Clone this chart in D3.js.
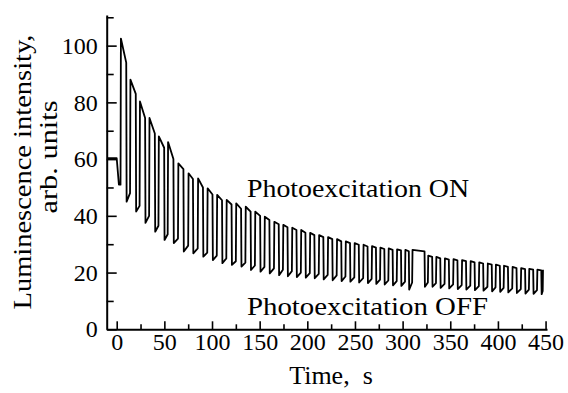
<!DOCTYPE html>
<html>
<head>
<meta charset="utf-8">
<script src="https://cdn.jsdelivr.net/npm/d3@7"></script>
<style>
  html, body { margin: 0; padding: 0; background: #fff; }
  svg { display: block; }
</style>
</head>
<body>
<svg id="chart" width="568" height="393"></svg>
<script>
const serif = "Liberation Serif, DejaVu Serif, serif";

// lead-in before the first light pulse (time s, intensity)
const leadT = [-10, 0, 2.3];
const leadV = [60.3, 60.3, 51];

// one entry per photoexcitation cycle
const riseT  = [4, 14, 24, 34, 43.8, 53.5, 64.3, 75, 85, 95, 105, 115, 125, 135, 145, 155, 165,
                174.4, 183.8, 193.2, 202.6, 212, 221.4, 230.8, 240, 249.3, 258.6, 267.5, 276.3, 285, 293.8,
                302.5, 310, 326.5, 335, 344, 353, 362, 371, 380, 389, 397.5, 406, 415, 424, 432.5, 441];
const fallT  = [10, 20, 29.8, 40, 49.8, 59.5, 70, 80, 90.5, 100.5, 110.5, 120.5, 130.5, 140.5, 150.5, 160.2, 170,
                179.2, 188.6, 198, 207.4, 216.8, 226.2, 235.6, 244.8, 254, 263.2, 272, 280.8, 289.5, 298.3,
                306.5, 323, 331, 339.5, 348.5, 357.5, 366.5, 375.5, 384.5, 393.5, 402, 410.5, 419.5, 428.5, 437, 445.5];
const onPeak = [102.5, 88, 80.3, 74.5, 68, 66, 58.5, 55, 53.2, 49.7, 47.4, 45.6, 44.4, 43.2, 41.5, 39.7, 37.9,
                36.8, 35.8, 35, 34, 33.2, 32.5, 31.8, 31, 30.4, 29.8, 29.3, 28.8, 28.5, 28.2,
                28, 28, 26, 25.5, 25, 24.7, 24.4, 24, 23.6, 23.2, 22.8, 22.4, 22, 21.6, 21.3, 21];
const onEnd  = [94, 83, 74.5, 69, 64, 60, 56.5, 53, 50, 47.5, 45.5, 44, 42.5, 41.5, 40, 38.5, 37,
                36, 35, 34, 33.2, 32.5, 31.8, 31, 30.4, 29.8, 29.2, 28.8, 28.3, 28, 27.8,
                27.5, 27.5, 25.5, 25, 24.6, 24.3, 24, 23.6, 23.2, 22.8, 22.4, 22, 21.6, 21.2, 21, 20.8];
const offMin = [45, 41.5, 37.5, 34.4, 31.5, 30.4, 27.4, 26.8, 25.6, 24.4, 23.3, 22.7, 22.1, 20.9, 20.3, 19.7, 19.1,
                18.7, 18.4, 18.2, 18, 17.6, 17.3, 17, 16.8, 16.5, 16.3, 16, 15.8, 15.5, 15.3,
                14, 15, 15, 14.6, 14.4, 14.2, 14, 13.8, 13.6, 13.4, 13.2, 13, 12.8, 12.6, 12.5, 12.4];
const offEnd = [48, 43.5, 40, 36.5, 33.5, 32, 29.5, 28.5, 27, 26, 25, 24, 23.5, 22.5, 22, 21.5, 21,
                20.5, 20, 19.8, 19.5, 19.2, 19, 18.6, 18.3, 18, 17.8, 17.5, 17.2, 17, 16.8,
                16.5, 16.5, 16.3, 16, 15.8, 15.6, 15.4, 15.2, 15, 14.8, 14.6, 14.4, 14.2, 14, 13.8, 13.5];
// trace ends on a final switch-on
const tailT = [447, 447.3];
const tailV = [13.5, 21];

const xMajor = [0, 50, 100, 150, 200, 250, 300, 350, 400, 450];
const xMinor = [25, 75, 125, 175, 225, 275, 325, 375, 425];
const yMajor = [0, 20, 40, 60, 80, 100];
const yMinor = [10, 30, 50, 70, 90, 110];

const svg = d3.select("#chart");

const x = d3.scaleLinear().domain([-10.5, 451.5]).range([106.7, 547]);
const y = d3.scaleLinear().domain([0, 110.8]).range([329.3, 15]);

// build the trace from the per-cycle readings
const pts = leadT.map((t, i) => [t, leadV[i]]);
riseT.forEach((t, i) => {
  const prevOff = i === 0 ? leadV[leadV.length - 1] : offEnd[i - 1];
  pts.push([t, prevOff]);
  pts.push([t + 0.4, onPeak[i]]);
  pts.push([fallT[i], onEnd[i]]);
  pts.push([fallT[i] + 0.4, offMin[i]]);
  if (i < riseT.length - 1) pts.push([riseT[i + 1], offEnd[i]]);
});
tailT.forEach((t, i) => pts.push([t, tailV[i]]));

const line = d3.line().x(d => x(d[0])).y(d => y(d[1]));

svg.append("path")
  .datum(pts)
  .attr("fill", "none")
  .attr("stroke", "#000")
  .attr("stroke-width", 1.8)
  .attr("stroke-linejoin", "round")
  .attr("d", line);

// x axis, ticks pointing inward
const gx = svg.append("g").attr("transform", "translate(0,329.3)");
gx.call(d3.axisBottom(x).tickValues(xMajor).tickSize(-8).tickSizeOuter(0).tickPadding(4));
gx.append("g").call(d3.axisBottom(x).tickValues(xMinor).tickSize(-5).tickSizeOuter(0).tickFormat(""))
  .select(".domain").remove();

// y axis
const gy = svg.append("g").attr("transform", "translate(106.7,0)");
gy.call(d3.axisLeft(y).tickValues(yMajor).tickSize(-10).tickSizeOuter(0).tickPadding(9));
gy.append("g").call(d3.axisLeft(y).tickValues(yMinor).tickSize(-7).tickSizeOuter(0).tickFormat(""))
  .select(".domain").remove();

svg.selectAll("g").attr("font-family", serif);
svg.selectAll(".domain").attr("stroke-width", 2);
svg.selectAll(".tick line").attr("stroke-width", 1.6);
svg.selectAll(".tick text")
  .attr("font-family", serif)
  .attr("font-size", 24);

// axis titles
svg.append("text")
  .attr("transform", "translate(31,172) rotate(-90)")
  .attr("text-anchor", "middle")
  .attr("font-family", serif)
  .attr("font-size", 26)
  .attr("textLength", 275)
  .attr("lengthAdjust", "spacingAndGlyphs")
  .text("Luminescence intensity,");
svg.append("text")
  .attr("transform", "translate(57,157) rotate(-90)")
  .attr("text-anchor", "middle")
  .attr("font-family", serif)
  .attr("font-size", 26)
  .attr("textLength", 113)
  .attr("lengthAdjust", "spacingAndGlyphs")
  .text("arb. units");
svg.append("text")
  .attr("x", 331).attr("y", 384)
  .attr("text-anchor", "middle")
  .attr("font-family", serif)
  .attr("font-size", 26)
  .text("Time,\u00a0\u00a0s");

// state annotations
svg.append("text")
  .attr("x", 247).attr("y", 197)
  .attr("font-family", serif)
  .attr("font-size", 25)
  .attr("textLength", 222)
  .attr("lengthAdjust", "spacingAndGlyphs")
  .text("Photoexcitation ON");
svg.append("text")
  .attr("x", 247).attr("y", 315)
  .attr("font-family", serif)
  .attr("font-size", 25)
  .attr("textLength", 241)
  .attr("lengthAdjust", "spacingAndGlyphs")
  .text("Photoexcitation OFF");
</script>
</body>
</html>
